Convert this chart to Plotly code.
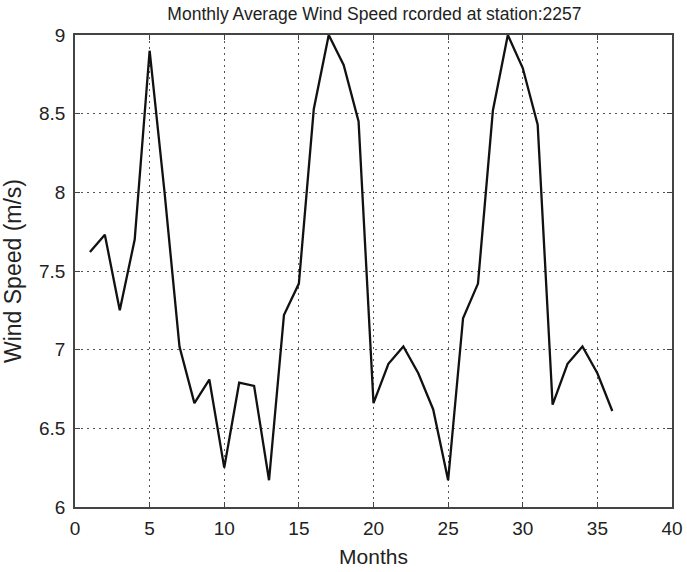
import plotly.graph_objects as go

months = list(range(1, 37))
wind_speed = [7.62, 7.73, 7.25, 7.70, 8.90, 8.00, 7.02, 6.66, 6.81, 6.25,
              6.79, 6.77, 6.17, 7.22, 7.42, 8.53, 9.00, 8.81, 8.45, 6.66,
              6.91, 7.02, 6.85, 6.62, 6.17, 7.20, 7.42, 8.52, 9.00, 8.79,
              8.43, 6.65, 6.91, 7.02, 6.85, 6.61]
x_ticks = [0, 5, 10, 15, 20, 25, 30, 35, 40]
y_ticks = [6, 6.5, 7, 7.5, 8, 8.5, 9]
y_tick_text = ["6", "6.5", "7", "7.5", "8", "8.5", "9"]

REG = "Liberation Sans, Arial"
TXT = "#222222"

fig = go.Figure()
fig.add_trace(go.Scatter(x=months, y=wind_speed, mode="lines",
                         line=dict(color="#111111", width=2.3), showlegend=False))

axis_common = dict(showgrid=True, gridcolor="#555555", griddash="2px,4px", gridwidth=1,
                   showline=True, linecolor="#444444", linewidth=1.5, mirror="allticks",
                   ticks="inside", ticklen=5, tickcolor="#444444", tickwidth=1,
                   tickfont=dict(family=REG, size=19, color=TXT),
                   zeroline=False, automargin=False)

fig.update_layout(
    width=687, height=572,
    margin=dict(l=75, r=15, t=35, b=65),
    paper_bgcolor="white", plot_bgcolor="white",
    title=dict(text="Monthly Average Wind Speed rcorded at station:2257",
               x=0.545, xanchor="center", y=1 - 14 / 572, yanchor="middle",
               font=dict(family=REG, size=17.5, color=TXT)),
    xaxis=dict(range=[0, 40], tickvals=x_ticks, ticktext=[str(v) for v in x_ticks],
               ticklabelstandoff=3,
               title=dict(text="Months", standoff=12,
                          font=dict(family=REG, size=21, color=TXT)),
               **axis_common),
    yaxis=dict(range=[6, 9], tickvals=y_ticks, ticktext=y_tick_text,
               ticklabelstandoff=4,
               title=dict(text="Wind Speed (m/s)", standoff=14,
                          font=dict(family=REG, size=23, color=TXT)),
               **axis_common),
)

fig.write_html(
    "out.html",
    config={"displayModeBar": False},
    post_script=("document.body.style.margin='0';"
                 "document.body.style.overflow='hidden';"
                 "document.documentElement.style.overflow='hidden';"),
)
